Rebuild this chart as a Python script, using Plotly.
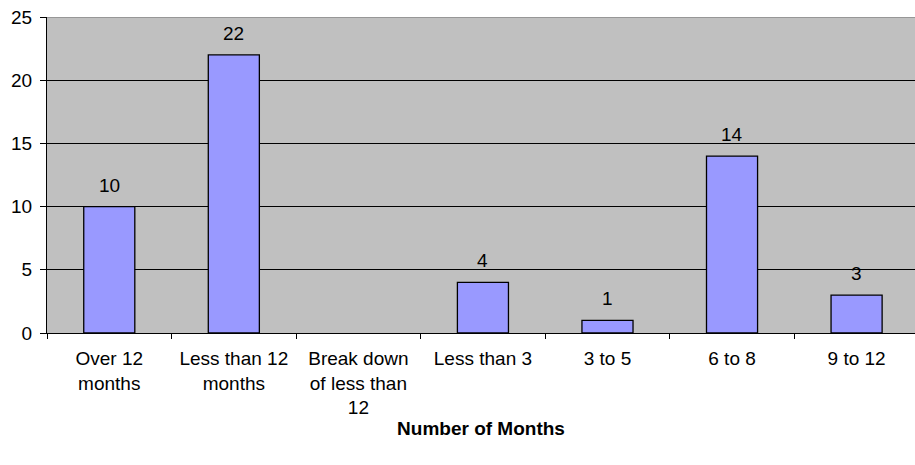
import plotly.graph_objects as go

categories = ["Over 12<br>months", "Less than 12<br>months", "Break down<br>of less than<br>12",
              "Less than 3", "3 to 5", "6 to 8", "9 to 12"]
values = [10, 22, None, 4, 1, 14, 3]
y_ticks = [0, 5, 10, 15, 20, 25]
x_title = "Number of Months"

FONT = "Liberation Sans, Arial, sans-serif"
FS = 19

fig = go.Figure()
fig.add_trace(go.Bar(
    x=categories, y=values,
    marker=dict(color="#9999FF", line=dict(color="black", width=1.3)),
    width=0.41,
    hoverinfo="skip",
))

for c, v in zip(categories, values):
    if v is None:
        continue
    fig.add_annotation(x=c, y=v, text=str(v), showarrow=False,
                       yanchor="bottom", yshift=9,
                       font=dict(family=FONT, size=FS, color="black"))

fig.add_shape(type="line", xref="paper", yref="y", x0=0, x1=1, y0=25, y1=25,
              line=dict(color="#8a8a8a", width=1.5), layer="above")

fig.update_layout(
    width=915, height=465,
    margin=dict(l=47, r=0, t=17, b=132),
    paper_bgcolor="white",
    plot_bgcolor="#C0C0C0",
    showlegend=False,
    font=dict(family=FONT, size=FS, color="black"),
    xaxis=dict(
        type="category",
        range=[-0.5, 6.469],
        tickson="boundaries",
        ticks="outside", ticklen=5, tickcolor="black", tickwidth=1,
        ticklabelstandoff=8,
        showline=True, linecolor="black", linewidth=1,
        showgrid=False,
        tickfont=dict(family=FONT, size=FS),
        title=dict(text="<b>" + x_title + "</b>", standoff=2,
                   font=dict(family=FONT, size=FS)),
        automargin=False,
    ),
    yaxis=dict(
        range=[0, 25],
        tickvals=y_ticks,
        ticks="outside", ticklen=6, tickcolor="black", tickwidth=1,
        ticklabelstandoff=4,
        showline=True, linecolor="black", linewidth=1,
        showgrid=True, gridcolor="black", gridwidth=1,
        zeroline=False,
        tickfont=dict(family=FONT, size=FS),
        automargin=False,
    ),
)

fig.write_html("out.html", config={"displayModeBar": False},
               post_script="document.body.style.margin='0';document.body.style.overflow='hidden';")
